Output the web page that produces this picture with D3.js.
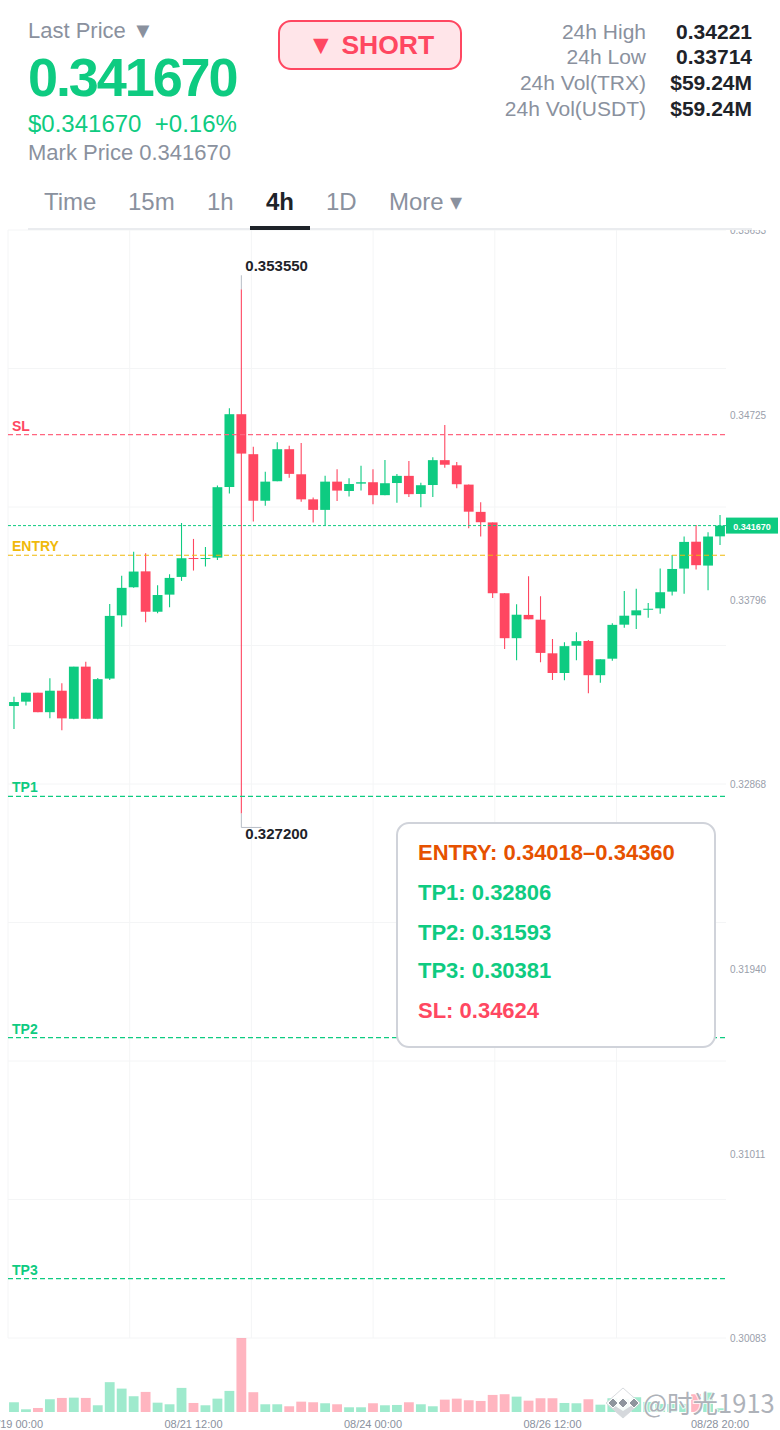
<!DOCTYPE html>
<html>
<head>
<meta charset="utf-8">
<script src="https://cdn.jsdelivr.net/npm/d3@7"></script>
<style>
  html, body { margin: 0; padding: 0; background: #fff; }
  svg { display: block; font-family: "Liberation Sans", Arial, sans-serif; }
</style>
</head>
<body>
<div id="chart"></div>
<script>
// candles, oldest first, 4h each
var opens = [0.33260,0.33282,0.33327,0.33229,0.33337,0.33196,0.33458,0.33196,0.33398,0.33716,
  0.33857,0.33937,0.33734,0.33820,0.33909,0.34004,0.34000,0.34006,0.34361,0.34727,
  0.34526,0.34292,0.34390,0.34551,0.34425,0.34299,0.34246,0.34388,0.34341,0.34378,
  0.34385,0.34320,0.34381,0.34417,0.34326,0.34371,0.34496,0.34470,0.34373,0.34236,
  0.34183,0.33827,0.33601,0.33718,0.33694,0.33525,0.33426,0.33563,0.33587,0.33415,
  0.33498,0.33669,0.33716,0.33746,0.33751,0.33835,0.33951,0.34086,0.33966,0.34113];
var closes = [0.33280,0.33327,0.33229,0.33337,0.33198,0.33458,0.33196,0.33395,0.33713,0.33854,
  0.33936,0.33734,0.33818,0.33904,0.34003,0.34000,0.34004,0.34360,0.34727,0.34529,
  0.34292,0.34388,0.34551,0.34427,0.34299,0.34246,0.34388,0.34343,0.34376,0.34385,
  0.34320,0.34380,0.34417,0.34325,0.34370,0.34496,0.34473,0.34375,0.34237,0.34184,
  0.33827,0.33601,0.33719,0.33696,0.33527,0.33426,0.33561,0.33586,0.33415,0.33495,
  0.33668,0.33714,0.33741,0.33749,0.33832,0.33949,0.34085,0.33968,0.34112,0.34167];
var highs = [0.33307,0.33327,0.33327,0.33400,0.33374,0.33458,0.33482,0.33401,0.33773,0.33915,
  0.34036,0.34028,0.33867,0.33922,0.34180,0.34100,0.34060,0.34368,0.34757,0.35355,
  0.34564,0.34438,0.34586,0.34569,0.34582,0.34308,0.34418,0.34450,0.34405,0.34468,
  0.34450,0.34497,0.34427,0.34492,0.34383,0.34511,0.34673,0.34487,0.34373,0.34284,
  0.34183,0.33827,0.33772,0.33912,0.33812,0.33597,0.33581,0.33631,0.33592,0.33495,
  0.33676,0.33838,0.33849,0.33778,0.33951,0.34019,0.34112,0.34170,0.34133,0.34220];
var lows = [0.33145,0.33262,0.33229,0.33198,0.33138,0.33193,0.33196,0.33193,0.33391,0.33659,
  0.33854,0.33681,0.33726,0.33757,0.33889,0.33941,0.33961,0.33994,0.34328,0.32720,
  0.34187,0.34267,0.34390,0.34407,0.34287,0.34182,0.34167,0.34291,0.34313,0.34343,
  0.34274,0.34320,0.34282,0.34311,0.34259,0.34311,0.34458,0.34355,0.34154,0.34112,
  0.33803,0.33547,0.33490,0.33696,0.33480,0.33391,0.33389,0.33490,0.33324,0.33377,
  0.33488,0.33654,0.33647,0.33704,0.33724,0.33815,0.33825,0.33946,0.33842,0.34070];
var volumes = [9.7,2.7,4,12.7,14,14.3,14,6.7,29.7,23.3,
  15.7,20,9.3,7.7,24,9,6.7,13.3,21,73.7,
  19.7,7.7,7.7,5.7,10.3,9.7,8.7,7.7,4.7,4.7,
  8.7,6.7,7,9.7,7.7,5.7,12.3,13.3,11.7,11,
  17,17.7,15.3,11.3,13.7,13.7,9,8.7,12.7,7.3,
  13.7,13,14.7,10,8,8,8,17.7,19.3,3.7];

var priceTicks = [0.35653,0.34725,0.33796,0.32868,0.31940,0.31011,0.30083];
var timeTickIndex = [0,15,30,45,59];
var timeTickLabels = ['08/19 00:00','08/21 12:00','08/24 00:00','08/26 12:00','08/28 20:00'];

var levelNames = ['SL','ENTRY','TP1','TP2','TP3'];
var levelPrices = [0.34624,0.34018,0.32806,0.31593,0.30381];
var levelColors = ['#ff6680','#f0b90b','#0ecb81','#0ecb81','#0ecb81'];

var lastPrice = 0.34167;
var highLabel = '0.353550', lowLabel = '0.327200';

var statLabels = ['24h High','24h Low','24h Vol(TRX)','24h Vol(USDT)'];
var statValues = ['0.34221','0.33714','$59.24M','$59.24M'];
var tabNames = ['Time','15m','1h','4h','1D','More ▾'];
var tabX = [44,128,207,266,326,389];
var noteLines = ['ENTRY: 0.34018–0.34360','TP1: 0.32806','TP2: 0.31593','TP3: 0.30381','SL: 0.34624'];
var noteColors = ['#e65100','#0ecb81','#0ecb81','#0ecb81','#ff4761'];
var noteBase = [860,900,940,978,1018];

var GREEN = '#0ecb81', RED = '#ff4761', GREY = '#8a919e', DARK = '#1e2329';

var svg = d3.select('#chart').append('svg').attr('width',780).attr('height',1430);

var x = d3.scaleBand().domain(d3.range(opens.length)).range([8,726]).paddingInner(0.18).paddingOuter(0.09);
var y = d3.scaleLinear().domain([0.30083,0.35653]).range([1338,230]);
var v = d3.scaleLinear().domain([0,73.7]).range([1412,1338]);
var cx = function(i){ return x(i)+x.bandwidth()/2; };

// grid
var gridX = d3.scaleLinear().domain([0,6]).range([8,738.2]);
var grid = svg.append('g').attr('stroke','#f4f5f6').attr('stroke-width',1);
grid.selectAll('.gv').data(d3.range(6)).enter().append('line')
  .attr('x1',function(d){ return gridX(d); }).attr('x2',function(d){ return gridX(d); })
  .attr('y1',230).attr('y2',1338);
var gridStep = (y.domain()[1]-y.domain()[0])/8;
grid.selectAll('.gh').data(d3.range(9)).enter().append('line')
  .attr('x1',8).attr('x2',726)
  .attr('y1',function(d){ return y(y.domain()[0]+d*gridStep); })
  .attr('y2',function(d){ return y(y.domain()[0]+d*gridStep); });

// volume
svg.append('g').selectAll('rect').data(volumes).enter().append('rect')
  .attr('x',function(d,i){ return x(i); })
  .attr('width',x.bandwidth())
  .attr('y',function(d){ return v(d); })
  .attr('height',function(d){ return v(0)-v(d); })
  .attr('fill',function(d,i){ return closes[i]>=opens[i] ? GREEN : RED; })
  .attr('opacity',0.4);

// candles
var candle = svg.append('g').selectAll('g').data(opens).enter().append('g')
  .attr('fill',function(d,i){ return closes[i]>=opens[i] ? GREEN : RED; })
  .attr('stroke',function(d,i){ return closes[i]>=opens[i] ? GREEN : RED; });
candle.append('line')
  .attr('x1',function(d,i){ return cx(i); }).attr('x2',function(d,i){ return cx(i); })
  .attr('y1',function(d,i){ return y(highs[i]); })
  .attr('y2',function(d,i){ return y(lows[i]); })
  .attr('stroke-width',1.1);
candle.append('rect')
  .attr('x',function(d,i){ return x(i); })
  .attr('width',x.bandwidth())
  .attr('y',function(d,i){ return y(Math.max(opens[i],closes[i])); })
  .attr('height',function(d,i){ return Math.max(1,Math.abs(y(opens[i])-y(closes[i]))); })
  .attr('stroke','none');

// high / low markers on the spike candle
var spike = highs.indexOf(d3.max(highs));
var leaders = svg.append('g').attr('stroke','#b7bdc6').attr('fill','none');
leaders.append('line').attr('x1',cx(spike)).attr('x2',cx(spike)).attr('y1',y(highs[spike])-14).attr('y2',y(highs[spike]));
leaders.append('path').attr('d','M'+cx(spike)+','+y(lows[spike])+'V'+(y(lows[spike])+14)+'h20');
svg.append('text').attr('x',cx(spike)+4).attr('y',y(highs[spike])-18).attr('font-size',15).attr('font-weight','bold').attr('fill',DARK).text(highLabel);
svg.append('text').attr('x',cx(spike)+4).attr('y',y(lows[spike])+26).attr('font-size',15).attr('font-weight','bold').attr('fill',DARK).text(lowLabel);

// trade levels
var lv = svg.append('g');
lv.selectAll('line').data(levelPrices).enter().append('line')
  .attr('x1',8).attr('x2',726)
  .attr('y1',function(d){ return y(d); }).attr('y2',function(d){ return y(d); })
  .attr('stroke',function(d,i){ return levelColors[i]; })
  .attr('stroke-dasharray','5,3').attr('stroke-width',1.2);
lv.selectAll('text').data(levelNames).enter().append('text')
  .attr('x',12)
  .attr('y',function(d,i){ return y(levelPrices[i])-4; })
  .attr('font-size',14).attr('font-weight','bold')
  .attr('fill',function(d,i){ return i===0 ? RED : levelColors[i]; })
  .text(function(d){ return d; });

// last price line and tag
svg.append('line').attr('x1',8).attr('x2',726).attr('y1',y(lastPrice)).attr('y2',y(lastPrice))
  .attr('stroke',GREEN).attr('stroke-dasharray','3,2');
svg.append('rect').attr('x',726).attr('y',y(lastPrice)-8).attr('width',52).attr('height',16).attr('fill',GREEN);
svg.append('text').attr('x',752).attr('y',y(lastPrice)+4).attr('text-anchor','middle')
  .attr('font-size',9).attr('font-weight','bold').attr('fill','#fff').text(lastPrice.toFixed(6));

// axes
svg.append('clipPath').attr('id','plot-clip').append('rect').attr('x',0).attr('y',230).attr('width',780).attr('height',1200);
var yAxis = svg.append('g').attr('clip-path','url(#plot-clip)').append('g').attr('transform','translate(730,0.6)')
  .call(d3.axisRight(y).tickValues(priceTicks).tickSize(0).tickPadding(0).tickFormat(d3.format('.5f')));
yAxis.select('.domain').remove();
yAxis.selectAll('text').attr('font-family','inherit').attr('font-size',10).attr('fill','#9aa0ab');

var xAxis = svg.append('g').attr('transform','translate(0,1416)')
  .call(d3.axisBottom(x).tickValues(timeTickIndex).tickSize(0).tickPadding(4)
    .tickFormat(function(d,i){ return timeTickLabels[i]; }));
xAxis.select('.domain').remove();
xAxis.selectAll('text').attr('font-family','inherit').attr('font-size',11).attr('fill',GREY);

// note panel
svg.append('rect').attr('x',397).attr('y',823).attr('width',318).attr('height',224).attr('rx',12)
  .attr('fill','#fff').attr('stroke','#d0d3da').attr('stroke-width',2);
svg.append('g').selectAll('text').data(noteLines).enter().append('text')
  .attr('x',418).attr('y',function(d,i){ return noteBase[i]; })
  .attr('font-size',22).attr('font-weight','bold')
  .attr('fill',function(d,i){ return noteColors[i]; })
  .text(function(d){ return d; });

// header
svg.append('text').attr('x',28).attr('y',38).attr('font-size',22).attr('fill',GREY).text('Last Price ▼');
svg.append('text').attr('x',28).attr('y',96).attr('font-size',54).attr('font-weight','bold').attr('letter-spacing',-2.1).attr('fill',GREEN).text('0.341670');
svg.append('text').attr('x',28).attr('y',132).attr('font-size',24).attr('fill',GREEN).style('white-space','pre').text('$0.341670  +0.16%');
svg.append('text').attr('x',28).attr('y',160).attr('font-size',22).attr('fill',GREY).text('Mark Price 0.341670');

svg.append('rect').attr('x',279).attr('y',21).attr('width',182).attr('height',48).attr('rx',12)
  .attr('fill','#ffe5e9').attr('stroke',RED).attr('stroke-width',2);
svg.append('text').attr('x',371).attr('y',54).attr('text-anchor','middle').attr('font-size',26.5).attr('font-weight','bold').attr('fill',RED).text('▼ SHORT');

svg.append('g').selectAll('text').data(statLabels).enter().append('text')
  .attr('x',646).attr('y',function(d,i){ return 38.5+i*25.7; }).attr('text-anchor','end')
  .attr('font-size',21).attr('fill',GREY).text(function(d){ return d; });
svg.append('g').selectAll('text').data(statValues).enter().append('text')
  .attr('x',752).attr('y',function(d,i){ return 38.5+i*25.7; }).attr('text-anchor','end')
  .attr('font-size',21).attr('font-weight','bold').attr('fill',DARK).text(function(d){ return d; });

// tabs
svg.append('g').selectAll('text').data(tabNames).enter().append('text')
  .attr('x',function(d,i){ return tabX[i]; }).attr('y',210)
  .attr('font-size',24)
  .attr('font-weight',function(d){ return d==='4h' ? 'bold' : 'normal'; })
  .attr('fill',function(d){ return d==='4h' ? DARK : GREY; })
  .text(function(d){ return d; });
svg.append('rect').attr('x',28).attr('y',228).attr('width',724).attr('height',2).attr('fill','#eaecef');
svg.append('rect').attr('x',250).attr('y',226).attr('width',60).attr('height',4).attr('fill',DARK);

// watermark
var wm = svg.append('g');
wm.append('path').attr('d','M623,1388L640,1403L623,1418L606,1403Z').attr('fill','#fff').attr('stroke','#d5d8dc').attr('opacity',0.9);
wm.append('path').attr('d','M623,1411L634,1404L637,1406L623,1418L609,1406L612,1404Z').attr('fill','#d5d8dc');
wm.selectAll('.dot').data([-10,0,11]).enter().append('path')
  .attr('d',function(d){ var c=623+d; return 'M'+c+',1398L'+(c+5)+',1403L'+c+',1408L'+(c-5)+',1403Z'; })
  .attr('fill','#8f959e').attr('stroke','#fff');
wm.append('text').attr('x',643).attr('y',1413).attr('font-family','"Noto Sans CJK SC","Liberation Sans",sans-serif')
  .attr('font-size',25.5).attr('fill','none').attr('stroke','#fff').attr('stroke-width',2).attr('opacity',0.8).text('@时光1913');
wm.append('text').attr('x',643).attr('y',1413).attr('font-family','"Noto Sans CJK SC","Liberation Sans",sans-serif')
  .attr('font-size',25.5).attr('fill','#a6aab2').attr('opacity',0.9).text('@时光1913');
</script>
</body>
</html>
